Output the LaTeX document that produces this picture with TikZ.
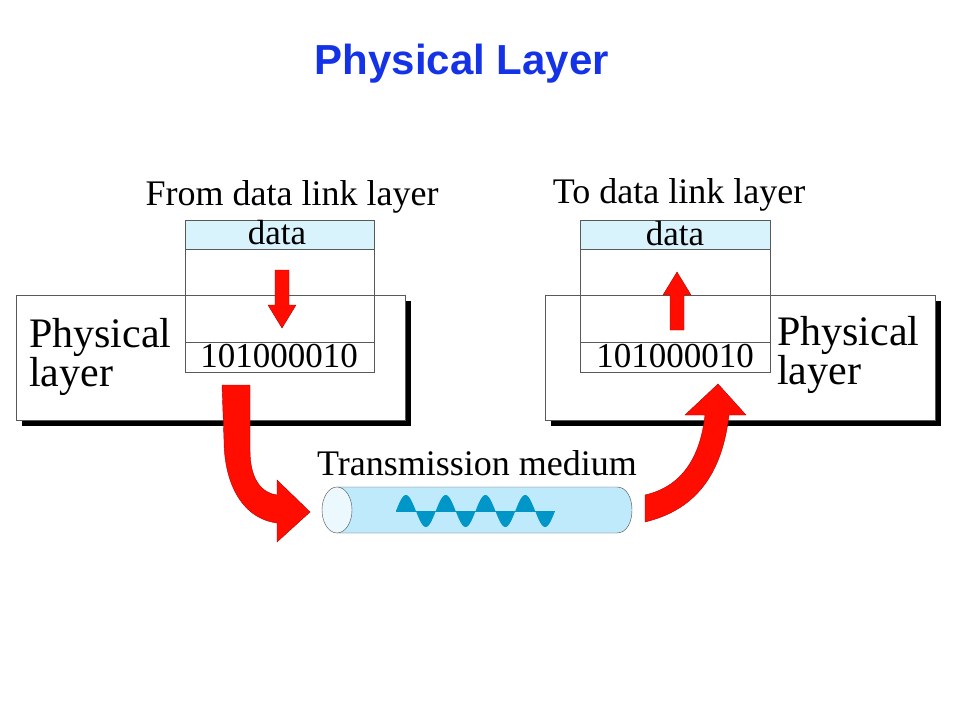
\documentclass[tikz,border=0pt]{standalone}
\usepackage{fontspec}
\setmainfont{Liberation Serif}
\newfontfamily\sansf{Liberation Sans}
\definecolor{wave}{RGB}{0,150,200}
\definecolor{titleblue}{RGB}{20,50,230}
\begin{document}
\begin{tikzpicture}[x=1pt,y=-1pt,
  cell/.style={draw=gray!70!black,line width=0.6pt},
  red arrow/.style={fill=red!90!orange,draw=red!70!black,line width=0.4pt},
  lbl/.style={font=\fontsize{36}{36}\selectfont,inner sep=0pt},
  cl/.style={font=\fontsize{35}{35}\selectfont,inner sep=0pt},
  phy/.style={align=left,font=\fontsize{42}{22}\selectfont,inner sep=0pt,anchor=west}]
\useasboundingbox (0,0) rectangle (960,720);
\node[font=\sansf\bfseries\fontsize{42}{42}\selectfont,text=titleblue,inner sep=0] (title) at (462,64) {Physical Layer};
% left
\fill[black] (22,301) rectangle (411,426);
\draw[cell,fill=white] (16,295) rectangle (405,420);
\draw[cell,fill=cyan!15] (185,220) rectangle (374,249);
\draw[cell] (185,249) rectangle (374,342);
\draw[cell] (185,295) -- (374,295);
\draw[cell] (185,342) rectangle (374,372);
\node[lbl] (fromdl) at (292,197) {From data link layer};
\node[cl] (data1) at (277,233) {data};
\node[cl] (bits1) at (279,356) {101000010};
\node[phy] (phy1) at (29,357) {Physical\\layer};
\draw[red arrow] (275,270) -- (289,270) -- (289,305) -- (296,305) -- (282,328) -- (268,305) -- (275,305) -- cycle;
% right
\fill[black] (551,301) rectangle (941,426);
\draw[cell,fill=white] (545,295) rectangle (935,420);
\draw[cell,fill=cyan!15] (580,220) rectangle (770,249);
\draw[cell] (580,249) rectangle (770,342);
\draw[cell] (580,295) -- (770,295);
\draw[cell] (580,342) rectangle (770,372);
\node[lbl] (todl) at (679,195) {To data link layer};
\node[cl] (data2) at (675,234) {data};
\node[cl] (bits2) at (675,356) {101000010};
\node[phy] (phy2) at (777,355) {Physical\\layer};
\draw[red arrow] (670,330) -- (684,330) -- (684,295) -- (691,295) -- (677,272) -- (663,295) -- (670,295) -- cycle;
% big arrows
\draw[red arrow] (222,385) -- (250,385) -- (250,450) .. controls (250,480) and (262,493) .. (277,495)
  -- (277,480) -- (310,512) -- (277,542) -- (277,523) .. controls (240,518) and (224,480) .. (224,440) -- cycle;
\draw[red arrow] (645,495) .. controls (680,487) and (700,460) .. (705,415) -- (685,415) -- (718,384) -- (746,415)
  -- (729,415) .. controls (722,475) and (695,510) .. (645,522) -- cycle;
% cylinder
\node[lbl] (tm) at (477,463) {Transmission medium};
\draw[gray!60!black,fill=cyan!25] (337,487) -- (617,487) .. controls (637,487) and (637,533) .. (617,533) -- (337,533) -- cycle;
\draw[gray!60!black,fill=cyan!8] (337,510) ellipse [x radius=15,y radius=23];
\coordinate (wl) at (396,511);
\coordinate (wr) at (555,511);
\draw[wave,line width=0.6pt] (wl) -- (wr);
\foreach \k in {0,...,3}{
  \fill[wave] plot[domain=0:180,samples=20] ({396+39.75*\k+\x/180*19.9},{511-16*sin(\x)});
  \fill[wave] plot[domain=0:180,samples=20] ({396+39.75*\k+19.9+\x/180*19.9},{511+16*sin(\x)});
}
\end{tikzpicture}
\end{document}
